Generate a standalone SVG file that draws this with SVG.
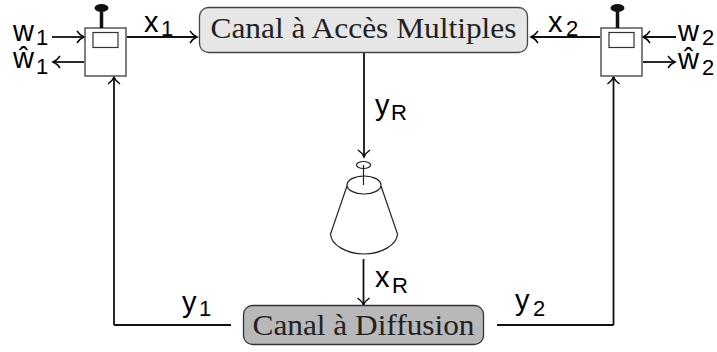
<svg xmlns="http://www.w3.org/2000/svg" width="717" height="352" viewBox="0 0 717 352">
<defs>
<marker id="a" markerUnits="userSpaceOnUse" markerWidth="12" markerHeight="14" refX="9" refY="7" orient="auto"><path d="M2 1 Q5 5.500 9 7 Q5 8.500 2 13" fill="none" stroke="#000" stroke-width="1.400"/></marker>
</defs>
<style>
.c{fill:none;stroke:#111;stroke-width:1.800}
.m{marker-end:url(#a)}
.b{fill:#fff;stroke:#555;stroke-width:1.500}
.s{fill:#fff;stroke:#333;stroke-width:1.200}
.l{font-family:"Liberation Sans",Arial,sans-serif;font-size:29px;fill:#000}
.i{font-family:"Liberation Sans",Arial,sans-serif;font-size:22px;fill:#000}
.t{font-family:"Liberation Serif","Times New Roman",serif;font-size:30px;fill:#222;text-anchor:middle}
.o{fill:none;stroke:#222;stroke-width:1.200}
</style>
<rect width="717" height="352" fill="#fff"/>
<g id="connectors">
<path class="c m" d="M52 37H84"/>
<path class="c m" d="M84 62H53"/>
<path class="c m" d="M127 37H197"/>
<path class="c m" d="M114 325V77"/>
<path class="c" d="M114 325H231"/>
<path class="c m" d="M676 37H643"/>
<path class="c m" d="M643 62H675"/>
<path class="c m" d="M600 37H531"/>
<path class="c m" d="M613.500 325V77"/>
<path class="c" d="M497 325H613.500"/>
<path class="c m" d="M364 53V157"/>
<path class="c m" d="M363.500 259V305"/>
</g>
<g id="node-tx1">
<rect class="b" x="85" y="28" width="41" height="48"/>
<rect class="s" x="93" y="32.500" width="25" height="15"/>
<path d="M101.500 12V28" stroke="#111" stroke-width="3.500"/>
<ellipse cx="101.500" cy="8" rx="7" ry="4" fill="#111"/>
</g>
<g id="node-tx2">
<rect class="b" x="601" y="28" width="41" height="48"/>
<rect class="s" x="609" y="32.500" width="25" height="15"/>
<path d="M617.500 12V28" stroke="#111" stroke-width="3.500"/>
<ellipse cx="617.500" cy="8" rx="7" ry="4" fill="#111"/>
</g>
<g id="node-mac">
<rect x="199.500" y="7.500" width="328" height="45" rx="9" fill="#e6e6e6" stroke="#444" stroke-width="1.300"/>
<text class="t" x="363.500" y="38" textLength="306" lengthAdjust="spacingAndGlyphs">Canal à Accès Multiples</text>
</g>
<g id="node-relay">
<ellipse class="o" cx="363.500" cy="165" rx="7" ry="3.500"/>
<path class="o" d="M363.500 165V185"/>
<ellipse class="o" cx="364" cy="185" rx="17" ry="9"/>
<path class="o" d="M347 186L330.500 234C331 245 347 254 364 254C381 254 397 245 397.500 234L381 186"/>
</g>
<g id="node-bc">
<rect x="243.500" y="305.500" width="240" height="39" rx="9" fill="#b8b8b8" stroke="#333" stroke-width="1.300"/>
<text class="t" x="363.500" y="335" textLength="222" lengthAdjust="spacingAndGlyphs">Canal à Diffusion</text>
</g>
<g id="labels">
<text class="l" x="13" y="41">w</text><text class="i" x="36" y="45">1</text>
<text class="l" x="13" y="68">ŵ</text><text class="i" x="36" y="74">1</text>
<text class="l" x="144" y="32">x</text><text class="i" x="161" y="36">1</text>
<text class="l" x="548" y="32">x</text><text class="i" x="566" y="36">2</text>
<text class="l" x="678" y="41">w</text><text class="i" x="702" y="45">2</text>
<text class="l" x="678" y="69">ŵ</text><text class="i" x="702" y="75">2</text>
<text class="l" x="375" y="115">y</text><text class="i" x="391" y="120">R</text>
<text class="l" x="375" y="287">x</text><text class="i" x="392" y="293">R</text>
<text class="l" x="182" y="312">y</text><text class="i" x="199" y="316">1</text>
<text class="l" x="515" y="310">y</text><text class="i" x="533" y="316">2</text>
</g>
</svg>
